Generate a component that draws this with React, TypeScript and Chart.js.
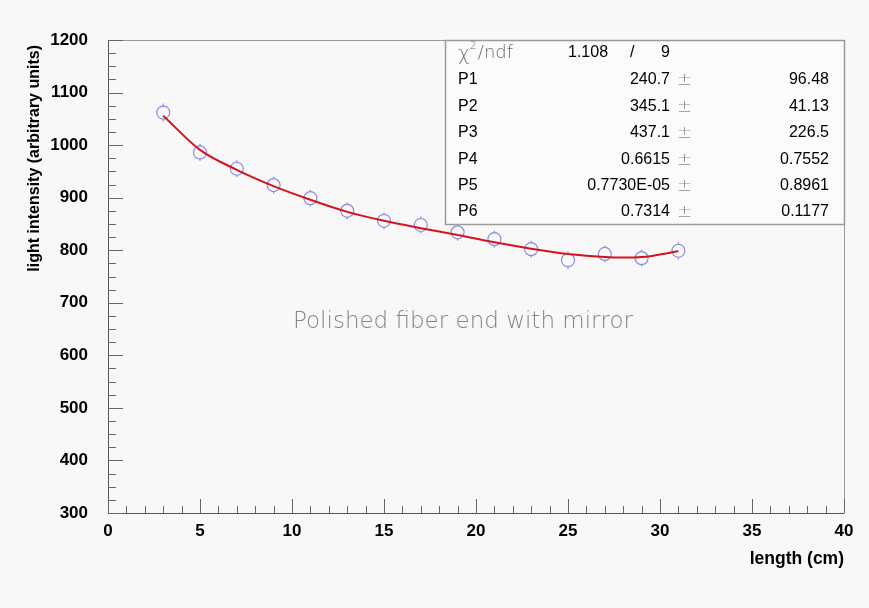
import React, { useEffect, useRef } from "react";
import { Chart, registerables } from "chart.js";

Chart.register(...registerables);

// ---- data ----
const lengths = [3, 5, 7, 9, 11, 13, 15, 17, 19, 21, 23, 25, 27, 29, 31];
const intensities = [1062, 986, 955, 924, 899, 875, 856, 848, 834, 821, 802, 781, 793, 785, 799];
const intensityErrors = [17, 16, 16, 16, 16, 16, 16, 16, 16, 16, 16, 17, 16, 16, 16];

const fitLengths = [3, 5, 7, 9, 11, 13, 15, 17, 19, 21, 23, 25, 27, 28, 29, 31];
const fitValues = [1056, 991, 953, 922, 896, 873, 856, 842, 829, 815, 803, 793, 787, 786, 787, 798];

const xTickValues = [0, 5, 10, 15, 20, 25, 30, 35, 40];
const yTickValues = [300, 400, 500, 600, 700, 800, 900, 1000, 1100, 1200];

const statNames = ["P1", "P2", "P3", "P4", "P5", "P6"];
const statValues = ["240.7", "345.1", "437.1", "0.6615", "0.7730E-05", "0.7314"];
const statErrors = ["96.48", "41.13", "226.5", "0.7552", "0.8961", "0.1177"];
const chi2Value = "1.108";
const ndfValue = "9";

const xTitle = "length (cm)";
const yTitle = "light intensity (arbitrary units)";
const annotation = "Polished fiber end with mirror";

const SANS = '"Liberation Sans", Arial, Helvetica, sans-serif';
const THIN = '"DejaVu Sans", "Liberation Sans", sans-serif';
const BG = "#f8f8f8";
const MARKER = "#8b8be0";
const FIT = "#d3141f";

const rootPlugin = {
  id: "rootStyle",
  beforeDraw(chart: any) {
    const ctx = chart.ctx;
    ctx.save();
    ctx.fillStyle = BG;
    ctx.fillRect(0, 0, chart.width, chart.height);
    ctx.restore();
  },
  afterDatasetsDraw(chart: any) {
    const ctx = chart.ctx;
    const xs = chart.scales.x;
    const ys = chart.scales.y;
    const r = 6.5;
    ctx.save();
    ctx.strokeStyle = MARKER;
    ctx.lineWidth = 1.2;
    lengths.forEach((lx, i) => {
      const px = xs.getPixelForValue(lx);
      const py = ys.getPixelForValue(intensities[i]);
      const top = ys.getPixelForValue(intensities[i] + intensityErrors[i]);
      const bot = ys.getPixelForValue(intensities[i] - intensityErrors[i]);
      ctx.beginPath();
      ctx.moveTo(px, top);
      ctx.lineTo(px, py - r);
      ctx.moveTo(px, py + r);
      ctx.lineTo(px, bot);
      ctx.stroke();
    });
    ctx.restore();
  },
  afterDraw(chart: any) {
    const ctx = chart.ctx;
    const xs = chart.scales.x;
    const ys = chart.scales.y;
    const { left, right, top, bottom } = chart.chartArea;
    ctx.save();

    // frame
    ctx.lineWidth = 1;
    ctx.strokeStyle = "#9a9a9a";
    ctx.beginPath();
    ctx.moveTo(left, top + 0.5);
    ctx.lineTo(right + 0.5, top + 0.5);
    ctx.lineTo(right + 0.5, bottom);
    ctx.stroke();
    ctx.strokeStyle = "#555";
    ctx.beginPath();
    ctx.moveTo(left + 0.5, top);
    ctx.lineTo(left + 0.5, bottom + 0.5);
    ctx.lineTo(right + 0.5, bottom + 0.5);
    ctx.stroke();

    // ticks
    ctx.strokeStyle = "#666";
    ctx.beginPath();
    for (let v = 300; v <= 1200; v += 25) {
      const py = Math.round(ys.getPixelForValue(v)) + 0.5;
      const len = v % 100 === 0 ? 15 : 8;
      ctx.moveTo(left, py);
      ctx.lineTo(left + len, py);
    }
    for (let v = 0; v <= 40; v += 1) {
      const px = Math.round(xs.getPixelForValue(v)) + 0.5;
      const len = v % 5 === 0 ? 14 : 7;
      ctx.moveTo(px, bottom);
      ctx.lineTo(px, bottom - len);
    }
    ctx.stroke();

    // axis titles
    ctx.fillStyle = "#000";
    ctx.font = `bold 17.5px ${SANS}`;
    ctx.textAlign = "right";
    ctx.textBaseline = "middle";
    ctx.fillText(xTitle, right, 559);

    ctx.save();
    ctx.translate(35, 45);
    ctx.rotate(-Math.PI / 2);
    ctx.font = `bold 16px ${SANS}`;
    ctx.textAlign = "right";
    ctx.textBaseline = "middle";
    ctx.fillText(yTitle, 0, 0);
    ctx.restore();

    // annotation
    ctx.font = `200 22px ${THIN}`;
    const w = ctx.measureText(annotation).width;
    const size = (22 * 340) / w;
    ctx.font = `200 ${size.toFixed(2)}px ${THIN}`;
    ctx.fillStyle = "#858585";
    ctx.textAlign = "center";
    ctx.textBaseline = "middle";
    ctx.fillText(annotation, 463, 322);

    // stats box
    const bx = 445, by = 40, bw = right - 445, bh = 184;
    ctx.fillStyle = "#fbfbfb";
    ctx.fillRect(bx, by, bw, bh);
    ctx.strokeStyle = "#9a9a9a";
    ctx.lineWidth = 1.5;
    ctx.strokeRect(bx + 0.5, by + 0.5, bw, bh);

    const rowY = [53, 80, 107, 133, 160, 186, 212];
    // chi2 row
    ctx.textBaseline = "middle";
    ctx.textAlign = "left";
    ctx.fillStyle = "#6e6e6e";
    ctx.font = `200 20px ${THIN}`;
    ctx.fillText("\u03C7", 458, rowY[0] + 2);
    let cx = 458 + ctx.measureText("\u03C7").width;
    ctx.font = `200 11px ${THIN}`;
    ctx.fillText("2", cx, rowY[0] - 7);
    cx += ctx.measureText("2").width + 1;
    ctx.font = `200 18px ${THIN}`;
    ctx.fillText("/ndf", cx, rowY[0]);

    ctx.fillStyle = "#000";
    ctx.font = `16px ${SANS}`;
    ctx.textAlign = "left";
    ctx.fillText(chi2Value, 568, rowY[0]);
    ctx.fillText("/", 630, rowY[0]);
    ctx.textAlign = "right";
    ctx.fillText(ndfValue, 670, rowY[0]);

    statNames.forEach((name, i) => {
      const y = rowY[i + 1];
      ctx.fillStyle = "#000";
      ctx.font = `16px ${SANS}`;
      ctx.textAlign = "left";
      ctx.fillText(name, 458, y);
      ctx.textAlign = "right";
      ctx.fillText(statValues[i], 670, y);
      ctx.fillText(statErrors[i], 829, y);
      ctx.fillStyle = "#8a8a8a";
      ctx.font = `200 18px ${THIN}`;
      ctx.textAlign = "left";
      ctx.fillText("\u00B1", 677, y);
    });

    ctx.restore();
  },
};

export default function App() {
  const canvasRef = useRef<HTMLCanvasElement | null>(null);

  useEffect(() => {
    document.body.style.margin = "0";
    document.body.style.background = BG;
    const canvas = canvasRef.current;
    if (!canvas) return;
    const tickFont = { family: SANS, size: 17, weight: "bold" as const };
    const chart = new Chart(canvas, {
      type: "scatter",
      data: {
        datasets: [
          {
            type: "line",
            label: "fit",
            data: fitLengths.map((x, i) => ({ x, y: fitValues[i] })),
            borderColor: FIT,
            borderWidth: 2,
            pointRadius: 0,
            cubicInterpolationMode: "monotone",
            fill: false,
            order: 0,
          } as any,
          {
            label: "data",
            data: lengths.map((x, i) => ({ x, y: intensities[i] })),
            pointStyle: "circle",
            pointRadius: 6.5,
            pointBorderWidth: 1.2,
            pointBorderColor: MARKER,
            pointBackgroundColor: "rgba(0,0,0,0)",
            showLine: false,
            order: 1,
          } as any,
        ],
      },
      options: {
        responsive: false,
        animation: false,
        events: [],
        layout: { padding: { top: 40, right: 25, left: 0, bottom: 0 } },
        plugins: {
          legend: { display: false },
          tooltip: { enabled: false },
          title: { display: false },
        },
        scales: {
          x: {
            type: "linear",
            min: 0,
            max: 40,
            afterFit: (s: any) => {
              s.height = 95;
            },
            afterBuildTicks: (s: any) => {
              s.ticks = xTickValues.map((v) => ({ value: v }));
            },
            grid: { display: false, drawTicks: false },
            border: { display: false },
            ticks: {
              font: tickFont,
              color: "#000",
              padding: 8,
              maxRotation: 0,
              autoSkip: false,
              callback: (v: any) => String(v),
            },
          },
          y: {
            type: "linear",
            min: 300,
            max: 1200,
            afterFit: (s: any) => {
              s.width = 108;
            },
            afterBuildTicks: (s: any) => {
              s.ticks = yTickValues.map((v) => ({ value: v }));
            },
            grid: { display: false, drawTicks: false },
            border: { display: false },
            ticks: {
              font: tickFont,
              color: "#000",
              padding: 20,
              autoSkip: false,
              callback: (v: any) => String(v),
            },
          },
        },
      },
      plugins: [rootPlugin],
    });
    return () => chart.destroy();
  }, []);

  return (
    <div style={{ width: 869, height: 608, background: BG }}>
      <canvas ref={canvasRef} width={869} height={608} style={{ display: "block" }} />
    </div>
  );
}
